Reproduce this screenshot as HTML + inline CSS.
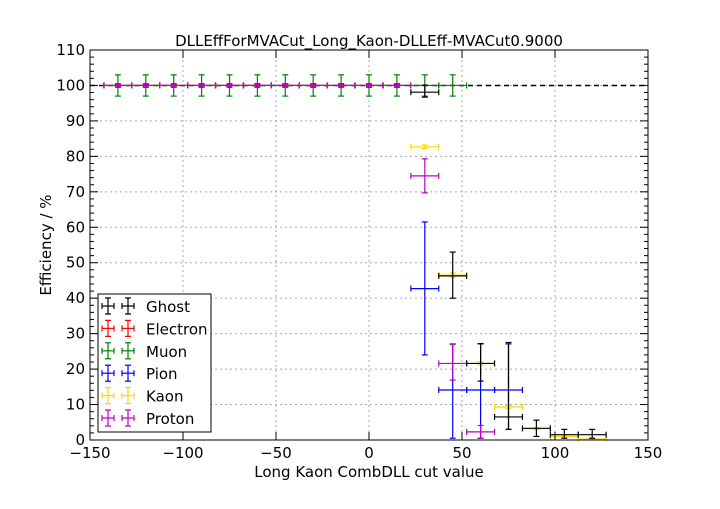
<!DOCTYPE html>
<html><head><meta charset="utf-8"><style>
body{margin:0;background:#fff;}
svg text{font-family:"DejaVu Sans","Liberation Sans",sans-serif;}
</style></head><body>
<svg id="chart" width="720" height="504" xmlns="http://www.w3.org/2000/svg">
<rect width="720" height="504" fill="#fff"/>
<g id="grid"></g>
<line x1="90" y1="85.5" x2="648" y2="85.5" stroke="#000" stroke-width="1.5" stroke-dasharray="5,4"/>
<g id="marks"></g>
<rect x="90" y="50" width="558" height="390" fill="none" stroke="#000" stroke-width="1"/>
<g id="ticks"></g>
<text x="369" y="46" font-size="15" text-anchor="middle">DLLEffForMVACut_Long_Kaon-DLLEff-MVACut0.9000</text>
<text x="369" y="477" font-size="15" text-anchor="middle">Long Kaon CombDLL cut value</text>
<text x="51" y="245" font-size="15" text-anchor="middle" transform="rotate(-90 51 245)">Efficiency / %</text>
<g id="legend"></g>
</svg>
<script>
const xTicks=[-150,-100,-50,0,50,100,150];
const yTicks=[0,10,20,30,40,50,60,70,80,90,100,110];
const species=["Ghost","Electron","Muon","Pion","Kaon","Proton"];
const colors=["#000000","#ff0000","#008000","#0000ff","#ffd700","#bf00bf"];
const flatX=[-135,-120,-105,-90,-75,-60,-45,-30,-15,0,15];
const ghostX=[30,45,60,75,90,105,120];
const ghostY=[98.1,46.3,21.6,6.5,3.3,1.5,1.5];
const ghostLo=[1.4,6.3,5,3.5,2.3,1,1];
const ghostHi=[2,6.7,5.6,21,2.3,1.5,1.5];
const electronX=flatX;
const electronY=flatX.map(()=>100);
const muonX=flatX.concat([30,45]);
const muonY=muonX.map(()=>100);
const muonErr=3;
const pionX=flatX.concat([30,45,60,75]);
const pionY=flatX.map(()=>100).concat([42.7,14.1,14.1,14.1]);
const pionLo=flatX.map(()=>0.5).concat([18.7,13.6,13.6,11.1]);
const pionHi=flatX.map(()=>0.5).concat([18.8,13,13,13]);
const kaonX=flatX.concat([30,45,60,75,90,105,120]);
const kaonY=flatX.map(()=>100).concat([82.7,46.5,21.6,9.3,3.2,1,0.3]);
const kaonErr=flatX.map(()=>0.3).concat([0.5,0.6,0.5,0.4,0.3,0.2,0.2]);
const protonX=flatX.concat([30,45,60]);
const protonY=flatX.map(()=>100).concat([74.5,21.6,2.3]);
const protonLo=flatX.map(()=>0.3).concat([4.8,4.7,1.8]);
const protonHi=flatX.map(()=>0.3).concat([4.8,5.4,1.8]);
const halfW=7.5;
const NS="http://www.w3.org/2000/svg";
const sx=v=>90+(v+150)*558/300;
const sy=v=>440-v*390/110;
function mk(tag,attrs,parent){const e=document.createElementNS(NS,tag);for(const k in attrs)e.setAttribute(k,attrs[k]);parent.appendChild(e);return e;}
const grid=document.getElementById('grid'),ticks=document.getElementById('ticks'),marks=document.getElementById('marks'),legend=document.getElementById('legend');
xTicks.forEach(t=>{const x=sx(t);
 if(t>-150&&t<150){const g=mk('line',{x1:x,y1:50,x2:x,y2:440,stroke:'#aaa','stroke-dasharray':'2,3'},grid);
 
 }
 mk('line',{x1:x,y1:440,x2:x,y2:432,stroke:'#000'},ticks);mk('line',{x1:x,y1:50,x2:x,y2:58,stroke:'#000'},ticks);
 const tx=mk('text',{x:x,y:458,'font-size':15,'text-anchor':'middle'},ticks);tx.textContent=t<0?'\u2212'+(-t):t;
 
 });
yTicks.forEach(t=>{const y=sy(t);
 if(t>0&&t<110){const g=mk('line',{x1:90,y1:y,x2:648,y2:y,stroke:'#aaa','stroke-dasharray':'2,3'},grid);
 
 }
 mk('line',{x1:90,y1:y,x2:98,y2:y,stroke:'#000'},ticks);mk('line',{x1:648,y1:y,x2:640,y2:y,stroke:'#000'},ticks);
 const tx=mk('text',{x:85,y:y+5,'font-size':15,'text-anchor':'end'},ticks);tx.textContent=t;
 
 });
for(let v=2;v<110;v+=2){if(v%10===0)continue;const y=sy(v);mk('line',{x1:90,y1:y,x2:94,y2:y,stroke:'#000'},ticks);mk('line',{x1:648,y1:y,x2:644,y2:y,stroke:'#000'},ticks);}
function errbar(x,y,lo,hi,col,name){
 const g=mk('g',{stroke:col,'stroke-width':1.2,fill:'none'},marks);
 
 
 const X=sx(x),Y=sy(y),x0=sx(x-halfW),x1=sx(x+halfW),yl=sy(y-lo),yh=sy(y+hi);
 mk('line',{x1:x0,y1:Y,x2:x1,y2:Y},g);mk('line',{x1:X,y1:yl,x2:X,y2:yh},g);
 mk('line',{x1:x0,y1:Y-3,x2:x0,y2:Y+3},g);mk('line',{x1:x1,y1:Y-3,x2:x1,y2:Y+3},g);
 mk('line',{x1:X-3,y1:yl,x2:X+3,y2:yl},g);mk('line',{x1:X-3,y1:yh,x2:X+3,y2:yh},g);}
electronX.forEach((x,i)=>errbar(x,electronY[i],0.3,0.3,colors[1],'electron-point'));
muonX.forEach((x,i)=>errbar(x,muonY[i],muonErr,muonErr,colors[2],'muon-point'));
pionX.forEach((x,i)=>errbar(x,pionY[i],pionLo[i],pionHi[i],colors[3],'pion-point'));
kaonX.forEach((x,i)=>errbar(x,kaonY[i],kaonErr[i],kaonErr[i],colors[4],'kaon-point'));
protonX.forEach((x,i)=>errbar(x,protonY[i],protonLo[i],protonHi[i],colors[5],'proton-point'));
ghostX.forEach((x,i)=>errbar(x,ghostY[i],ghostLo[i],ghostHi[i],colors[0],'ghost-point'));
mk('rect',{x:98,y:294,width:113,height:138,fill:'#fff',stroke:'#000'},legend);
species.forEach((s,i)=>{const y=306+i*22.4;
 const g=mk('g',{stroke:colors[i],'stroke-width':1.2},legend);
 
 
 [108,128].forEach(cx=>{mk('line',{x1:cx-6,y1:y,x2:cx+6,y2:y},g);mk('line',{x1:cx,y1:y-8,x2:cx,y2:y+8},g);
  mk('line',{x1:cx-3,y1:y-8,x2:cx+3,y2:y-8},g);mk('line',{x1:cx-3,y1:y+8,x2:cx+3,y2:y+8},g);
  mk('line',{x1:cx-6,y1:y-3,x2:cx-6,y2:y+3},g);mk('line',{x1:cx+6,y1:y-3,x2:cx+6,y2:y+3},g);});
 const t=mk('text',{x:146,y:y+6,'font-size':15,fill:'#000'},legend);t.textContent=s;
 
 });
</script>
</body></html>
